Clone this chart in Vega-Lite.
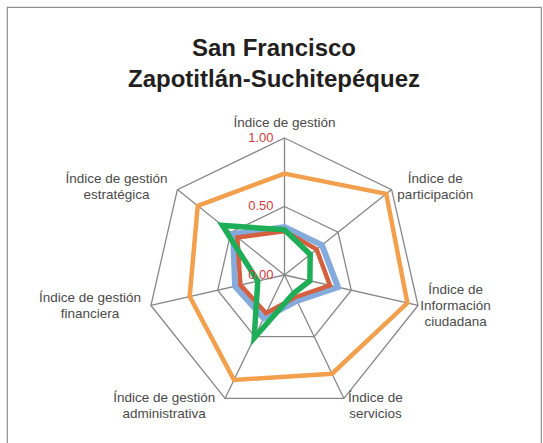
{
  "$schema": "https://vega.github.io/schema/vega-lite/v6.json",
  "width": 543,
  "height": 443,
  "autosize": {"type": "fit", "contains": "padding"},
  "padding": {"left": 7, "top": 7, "right": 2, "bottom": -4},
  "background": "white",
  "config": {"view": {"stroke": "#8f8f8f", "strokeWidth": 1.2}},
  "title": {
    "text": ["San Francisco", "Zapotitlán-Suchitepéquez"],
    "anchor": "middle",
    "frame": "group",
    "offset": -85,
    "font": "Liberation Sans",
    "fontWeight": "bold",
    "fontSize": 24,
    "lineHeight": 31,
    "color": "#231f20"
  },
  "datasets": {
    "axes": [
      {"idx": 0, "label": "Índice de gestión"},
      {"idx": 1, "label": "Índice de\nparticipación"},
      {"idx": 2, "label": "Índice de\nInformación\nciudadana"},
      {"idx": 3, "label": "Índice de\nservicios"},
      {"idx": 4, "label": "Índice de gestión\nadministrativa"},
      {"idx": 5, "label": "Índice de gestión\nfinanciera"},
      {"idx": 6, "label": "Índice de gestión\nestratégica"}
    ],
    "rings": [
      {"level": 0.5, "idx": 0}, {"level": 0.5, "idx": 1}, {"level": 0.5, "idx": 2}, {"level": 0.5, "idx": 3},
      {"level": 0.5, "idx": 4}, {"level": 0.5, "idx": 5}, {"level": 0.5, "idx": 6},
      {"level": 1.0, "idx": 0}, {"level": 1.0, "idx": 1}, {"level": 1.0, "idx": 2}, {"level": 1.0, "idx": 3},
      {"level": 1.0, "idx": 4}, {"level": 1.0, "idx": 5}, {"level": 1.0, "idx": 6}
    ],
    "ticks": [{"level": 0}, {"level": 0.5}, {"level": 1}],
    "scores": [
      {"serie": "Serie 3", "idx": 0, "value": 0.74},
      {"serie": "Serie 3", "idx": 1, "value": 0.95},
      {"serie": "Serie 3", "idx": 2, "value": 0.92},
      {"serie": "Serie 3", "idx": 3, "value": 0.80},
      {"serie": "Serie 3", "idx": 4, "value": 0.85},
      {"serie": "Serie 3", "idx": 5, "value": 0.71},
      {"serie": "Serie 3", "idx": 6, "value": 0.81},
      {"serie": "Serie 1", "idx": 0, "value": 0.35},
      {"serie": "Serie 1", "idx": 1, "value": 0.35},
      {"serie": "Serie 1", "idx": 2, "value": 0.40},
      {"serie": "Serie 1", "idx": 3, "value": 0.21},
      {"serie": "Serie 1", "idx": 4, "value": 0.35},
      {"serie": "Serie 1", "idx": 5, "value": 0.37},
      {"serie": "Serie 1", "idx": 6, "value": 0.48},
      {"serie": "Serie 2", "idx": 0, "value": 0.32},
      {"serie": "Serie 2", "idx": 1, "value": 0.30},
      {"serie": "Serie 2", "idx": 2, "value": 0.34},
      {"serie": "Serie 2", "idx": 3, "value": 0.18},
      {"serie": "Serie 2", "idx": 4, "value": 0.31},
      {"serie": "Serie 2", "idx": 5, "value": 0.33},
      {"serie": "Serie 2", "idx": 6, "value": 0.44},
      {"serie": "Serie 4", "idx": 0, "value": 0.33},
      {"serie": "Serie 4", "idx": 1, "value": 0.24},
      {"serie": "Serie 4", "idx": 2, "value": 0.19},
      {"serie": "Serie 4", "idx": 3, "value": 0.15},
      {"serie": "Serie 4", "idx": 4, "value": 0.51},
      {"serie": "Serie 4", "idx": 5, "value": 0.20},
      {"serie": "Serie 4", "idx": 6, "value": 0.58}
    ]
  },
  "layer": [
    {
      "data": {"name": "rings"},
      "transform": [
        {"calculate": "datum.level * sin(datum.idx * 2 * PI / 7)", "as": "x"},
        {"calculate": "datum.level * cos(datum.idx * 2 * PI / 7)", "as": "y"}
      ],
      "mark": {"type": "line", "interpolate": "linear-closed", "stroke": "#878787", "strokeWidth": 1.3},
      "encoding": {
        "x": {"field": "x", "type": "quantitative", "scale": {"domain": [-2.0255, 1.8723], "nice": false, "zero": false}, "axis": null},
        "y": {"field": "y", "type": "quantitative", "scale": {"domain": [-1.2555, 1.9562], "nice": false, "zero": false}, "axis": null},
        "detail": {"field": "level", "type": "nominal"},
        "order": {"field": "idx", "type": "quantitative"}
      }
    },
    {
      "data": {"name": "axes"},
      "transform": [
        {"calculate": "sin(datum.idx * 2 * PI / 7)", "as": "vx"},
        {"calculate": "cos(datum.idx * 2 * PI / 7)", "as": "vy"},
        {"calculate": "0", "as": "origin"}
      ],
      "mark": {"type": "rule", "stroke": "#878787", "strokeWidth": 1.3},
      "encoding": {
        "x": {"field": "origin", "type": "quantitative"},
        "y": {"field": "origin", "type": "quantitative"},
        "x2": {"field": "vx"},
        "y2": {"field": "vy"}
      }
    },
    {
      "data": {"name": "scores"},
      "transform": [
        {"calculate": "datum.value * sin(datum.idx * 2 * PI / 7)", "as": "x"},
        {"calculate": "datum.value * cos(datum.idx * 2 * PI / 7)", "as": "y"}
      ],
      "mark": {"type": "line", "interpolate": "linear-closed", "strokeJoin": "miter"},
      "encoding": {
        "x": {"field": "x", "type": "quantitative"},
        "y": {"field": "y", "type": "quantitative"},
        "color": {
          "field": "serie", "type": "nominal", "legend": null,
          "scale": {"domain": ["Serie 1", "Serie 2", "Serie 3", "Serie 4"], "range": ["#85abdc", "#d4603f", "#f2a04e", "#1fae58"]}
        },
        "strokeWidth": {
          "field": "serie", "type": "nominal", "legend": null,
          "scale": {"type": "ordinal", "domain": ["Serie 1", "Serie 2", "Serie 3", "Serie 4"], "range": [6, 4.5, 4.5, 5.5]}
        },
        "order": {"field": "idx", "type": "quantitative"}
      }
    },
    {
      "data": {"name": "ticks"},
      "transform": [{"calculate": "0", "as": "origin"}],
      "mark": {"type": "text", "align": "right", "baseline": "middle", "dx": -11, "font": "Liberation Sans", "fontSize": 13, "color": "#cf3a40"},
      "encoding": {
        "x": {"field": "origin", "type": "quantitative"},
        "y": {"field": "level", "type": "quantitative"},
        "text": {"field": "level", "type": "quantitative", "format": ".2f"}
      }
    },
    {
      "data": {"name": "axes"},
      "transform": [
        {"calculate": "sin(datum.idx * 2 * PI / 7)", "as": "vx"},
        {"calculate": "cos(datum.idx * 2 * PI / 7)", "as": "vy"},
        {"calculate": "datum.vx > 0.1 ? 1 : (datum.vx < -0.1 ? -1 : 0)", "as": "side"},
        {"calculate": "length(split(datum.label, '\\n'))", "as": "nlines"},
        {"calculate": "max(length(split(datum.label, '\\n')[0]), length(split(datum.label, '\\n')[1] || ''), length(split(datum.label, '\\n')[2] || ''))", "as": "chars"},
        {"calculate": "datum.vx + datum.side * ((datum.side > 0 ? 4 : 9) + datum.chars * 3.05) / 137", "as": "lx"},
        {"calculate": "datum.vy - ((datum.vy > 0.9 ? -15 : (datum.vy < -0.8 ? 8 : (datum.vy > 0 ? -3 : 1))) - (datum.nlines - 1) * 8) / 137", "as": "ly"}
      ],
      "mark": {"type": "text", "align": "center", "baseline": "middle", "lineBreak": "\n", "lineHeight": 16, "font": "Liberation Sans", "fontSize": 13.5, "color": "#4a4a4a"},
      "encoding": {
        "x": {"field": "lx", "type": "quantitative"},
        "y": {"field": "ly", "type": "quantitative"},
        "text": {"field": "label", "type": "nominal"}
      }
    }
  ]
}
